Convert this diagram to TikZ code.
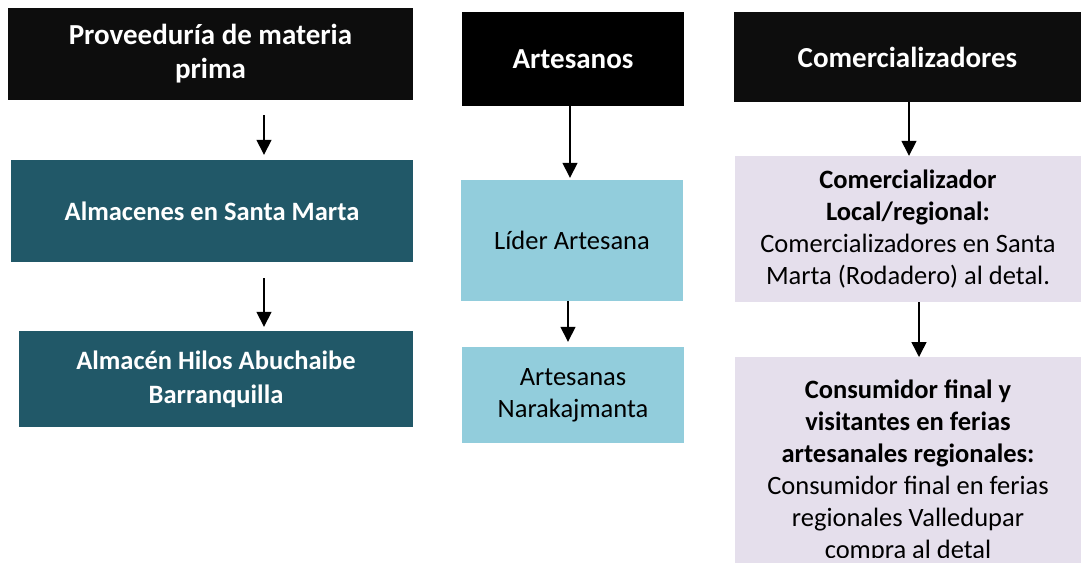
\documentclass[tikz,border=0pt]{standalone}
\usepackage{fontspec}
\setmainfont{Carlito}
\usetikzlibrary{arrows.meta}
\definecolor{headbox}{HTML}{0D0D0D}
\definecolor{tealbox}{HTML}{215868}
\definecolor{aquabox}{HTML}{92CDDC}
\definecolor{lilacbox}{HTML}{E5DFEC}

\begin{document}
\begin{tikzpicture}[x=1pt,y=-1pt,
    box/.style={rectangle, inner sep=0pt, align=center, font=\fontsize{26.5}{32}\selectfont},
    head/.style={box, fill=headbox, text=white, font=\fontsize{29}{34}\selectfont\bfseries},
    store/.style={box, fill=tealbox, text=white, font=\fontsize{26.5}{34}\selectfont\bfseries},
    craft/.style={box, fill=aquabox, text=black},
    trade/.style={box, fill=lilacbox, text=black},
    arr/.style={-{Triangle[width=15pt,length=15pt]}, line width=1.5pt}]
    \useasboundingbox (0,0) rectangle (1081,563);
    \clip (0,0) rectangle (1081,563);

    % column 1: raw material
    \node[head, minimum width=405pt, minimum height=92pt] (prov) at (210.5,54) {Proveeduría de materia\\prima};
    \node[store, minimum width=402pt, minimum height=102pt] (santa) at (212,211) {Almacenes en Santa Marta};
    \node[store, minimum width=394pt, minimum height=96pt] (abuch) at (216,379) {Almacén Hilos Abuchaibe\\Barranquilla};

    % column 2: artisans
    \node[head, fill=black, minimum width=222pt, minimum height=94pt] (artes) at (573,59) {Artesanos};
    \node[craft, minimum width=222pt, minimum height=121pt] (lider) at (572,240.5) {Líder Artesana};
    \node[craft, minimum width=222pt, minimum height=96pt] (nara) at (573,395) {Artesanas\\Narakajmanta};

    % column 3: traders
    \node[head, minimum width=347pt, minimum height=90pt] (comer) at (907.5,57) {Comercializadores};
    \node[trade, minimum width=346pt, minimum height=146pt] (local) at (908,229)
        {\textbf{Comercializador}\\\textbf{Local/regional:}\\Comercializadores en Santa\\Marta (Rodadero) al detal.};
    % last box runs past the page; its text stops at the baseline of the last line
    \fill[lilacbox] (735,550) rectangle (1081,563);
    \begin{scope}
        \clip (0,0) rectangle (1081,557.5);
        \node[trade, minimum width=346pt, minimum height=229pt, anchor=north] (consu) at (908,357)
            {\textbf{Consumidor final y}\\\textbf{visitantes en ferias}\\\textbf{artesanales regionales:}\\Consumidor final en ferias\\regionales Valledupar\\compra al detal};
    \end{scope}

    % arrows
    \draw[arr, shorten <=15pt, shorten >=5pt] ([xshift=53.5pt]prov.south) -- ([xshift=53.5pt]prov.south |- santa.north);
    \draw[arr, shorten <=16pt, shorten >=4pt] ([xshift=52pt]santa.south) -- ([xshift=52pt]santa.south |- abuch.north);
    \draw[arr, shorten >=2pt] ([xshift=-3pt]artes.south) -- ([xshift=-3pt]artes.south |- lider.north);
    \draw[arr, shorten >=5pt] ([xshift=-4pt]lider.south) -- ([xshift=-4pt]lider.south |- nara.north);
    \draw[arr] ([xshift=1.5pt]comer.south) -- ([xshift=1.5pt]comer.south |- local.north);
    \draw[arr] ([xshift=11pt]local.south) -- ([xshift=11pt]local.south |- consu.north);
\end{tikzpicture}
\end{document}
